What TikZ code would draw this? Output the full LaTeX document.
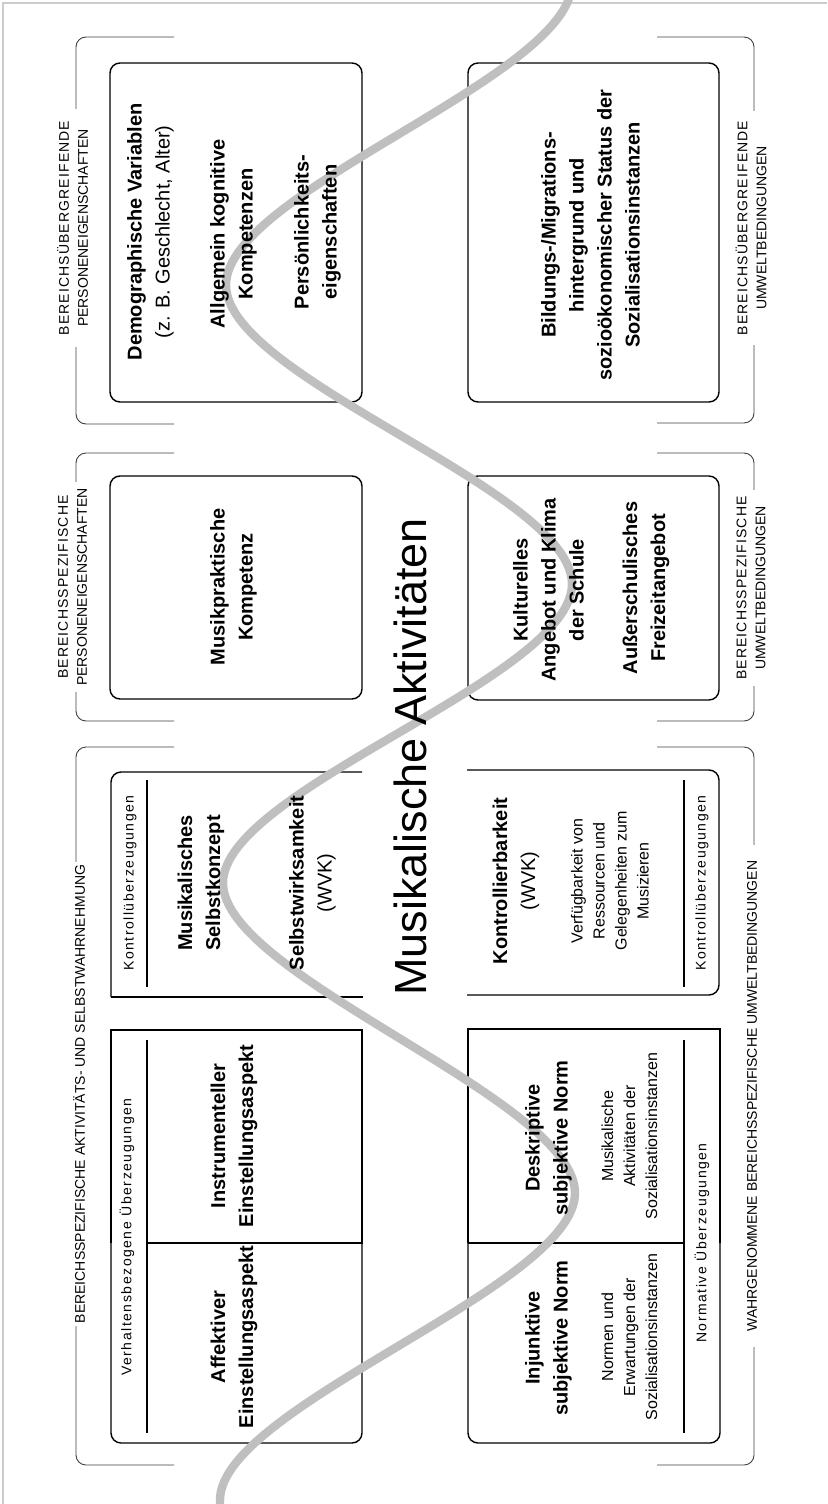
\documentclass[tikz,border=0pt]{standalone}
\usepackage{fontspec}
\setmainfont{Liberation Sans}
\newfontfamily\trackedfont[LetterSpace=11]{Liberation Sans}
\newfontfamily\headcapsfont[LetterSpace=8]{Liberation Sans}
\definecolor{wavegray}{RGB}{191,191,191}
\definecolor{framegray}{RGB}{204,204,204}

\begin{document}
\begin{tikzpicture}[x=0.5pt, y=-0.5pt]

% Define styles
\tikzstyle{box} = [draw, line width=0.7pt, rounded corners=5pt]
\tikzstyle{heavy} = [draw, line width=1.2pt]
\tikzstyle{rule} = [draw, line width=0.7pt]
\tikzstyle{bracket} = [draw=black!75, line width=0.45pt, rounded corners=5pt]
\tikzstyle{txt} = [rotate=90, align=center, inner sep=0pt]
\tikzstyle{head} = [txt, font=\fontsize{10}{14}\selectfont\bfseries]
\tikzstyle{normtext} = [txt, font=\fontsize{10}{14}\selectfont]
\tikzstyle{note} = [txt, font=\fontsize{8}{11}\selectfont]
\tikzstyle{belief} = [txt, font=\trackedfont\fontsize{7}{9}\selectfont]
\tikzstyle{grouplabel} = [txt, fill=white, inner ysep=1pt, font=\fontsize{7}{9.5}\selectfont]
\tikzstyle{maintitle} = [rotate=90, inner sep=0pt, font=\fontsize{22.5}{27}\selectfont]

\useasboundingbox (0,0) rectangle (827,1504);
\draw[framegray, line width=1pt] (3,1504) -- (3,3) -- (827,3);

% Brackets
\draw[bracket] (174,37) -- (76,37) -- (76,424) -- (174,424);
\draw[bracket] (657,37) -- (754,37) -- (754,423) -- (657,423);
\draw[bracket] (174,453) -- (76,453) -- (76,721) -- (174,721);
\draw[bracket] (657,453) -- (754,453) -- (754,721) -- (657,721);
\draw[bracket] (174,747) -- (76,747) -- (76,1465) -- (174,1465);
\draw[bracket] (657,747) -- (754,747) -- (754,1465) -- (657,1465);

\node[grouplabel, inner xsep=6pt] (perscross) at (72.5,228) {{\headcapsfont BEREICHSÜBERGREIFENDE}\\ PERSONENEIGENSCHAFTEN};
\node[grouplabel, inner xsep=3pt] (persspec) at (72.5,587) {{\headcapsfont BEREICHSSPEZIFISCHE}\\ PERSONENEIGENSCHAFTEN};
\node[grouplabel, inner xsep=5pt] (envcross) at (751,228) {{\headcapsfont BEREICHSÜBERGREIFENDE}\\ UMWELTBEDINGUNGEN};
\node[grouplabel, inner xsep=3pt] (envspec) at (751,588) {{\headcapsfont BEREICHSSPEZIFISCHE}\\ UMWELTBEDINGUNGEN};
\node[grouplabel, inner xsep=1.5pt] (activity) at (79,1094) {BEREICHSSPEZIFISCHE AKTIVITÄTS- UND SELBSTWAHRNEHMUNG};
\node[grouplabel, inner xsep=8pt] (perceived) at (752,1096) {WAHRGENOMMENE BEREICHSSPEZIFISCHE UMWELTBEDINGUNGEN};

% Boxes
\draw[box] (110,63) rectangle (362,402);
\draw[box] (468,63) rectangle (719,402);
\draw[box] (110,476) rectangle (362,699);
\draw[box] (468,476) rectangle (719,700);

\draw[box] (362,772) -- (111,772) -- (111,997);
\draw[heavy] (111,997) -- (363,997);
\draw[rule] (147,780) -- (147,987);
\draw[box] (467,770) -- (719,770) -- (719,995) -- (467,995);
\draw[rule] (684,780) -- (684,987);

\draw[box] (111,1243) -- (111,1443) -- (362,1443) -- (362,1243);
\draw[heavy] (111,1243) -- (111,1030) -- (362,1030) -- (362,1243) -- (147,1243);
\draw[rule] (147,1040) -- (147,1433);
\draw[box] (468,1243) -- (468,1443) -- (720,1443) -- (720,1243);
\draw[heavy] (468,1243) -- (468,1029) -- (720,1029) -- (720,1243);
\draw[heavy] (468,1243) -- (684,1243);
\draw[rule] (684,1040) -- (684,1433);

% Wave
\begin{scope}
\clip (0,0) rectangle (827,1504);
\draw[wavegray, line width=4.2pt] (572,-17) .. controls (572,77) and (226,191) .. (226,285)
  .. controls (226,379) and (572,490) .. (572,584)
  .. controls (572,678) and (223,789) .. (223,883)
  .. controls (223,977) and (575,1099) .. (575,1193)
  .. controls (575,1287) and (220,1406) .. (220,1500) -- (220,1520);
\end{scope}

% Row 1
\node[normtext] (demo) at (150.5,232) {{\bfseries Demographische Variablen}\\ (z. B. Geschlecht, Alter)};
\node[head] (cogn) at (233.5,234) {Allgemein kognitive\\ Kompetenzen};
\node[head] (person) at (317.5,232) {Persönlichkeits-\\ eigenschaften};
\node[head] (edu) at (590.5,235) {Bildungs-/Migrations-\\ hintergrund und\\ sozioökonomischer Status der\\ Sozialisationsinstanzen};

% Row 2
\node[head] (musprak) at (233.5,587) {Musikpraktische\\ Kompetenz};
\node[head] (culture) at (548.5,590) {Kulturelles\\ Angebot und Klima\\ der Schule};
\node[head] (leisure) at (646,588) {Außerschulisches\\ Freizeitangebot};

% Row 3
\node[belief] (controlL) at (130,883) {Kontrollüberzeugungen};
\node[head] (selfconc) at (201,883) {Musikalisches\\ Selbstkonzept};
\node[normtext] (selfeff) at (312.5,883) {{\bfseries Selbstwirksamkeit}\\ (WVK)};
\node[belief] (controlR) at (702,883) {Kontrollüberzeugungen};
\node[normtext] (controll) at (516,881) {{\bfseries Kontrollierbarkeit}\\ (WVK)};
\node[note] (resources) at (610,881) {Verfügbarkeit von\\ Ressourcen und\\ Gelegenheiten zum\\ Musizieren};

% Row 4
\node[belief] (behav) at (127,1237) {Verhaltensbezogene Überzeugungen};
\node[head] (instr) at (234,1136) {Instrumenteller\\ Einstellungsaspekt};
\node[head] (affect) at (234,1337) {Affektiver\\ Einstellungsaspekt};
\node[belief] (normative) at (702,1243) {Normative Überzeugungen};
\node[head] (descr) at (548.5,1138) {Deskriptive\\ subjektive Norm};
\node[note] (descrtxt) at (629.5,1136) {Musikalische\\ Aktivitäten der\\ Sozialisationsinstanzen};
\node[head] (injunct) at (548.5,1338) {Injunktive\\ subjektive Norm};
\node[note] (injuncttxt) at (629.5,1337) {Normen und\\ Erwartungen der\\ Sozialisationsinstanzen};

% Title
\node[maintitle, anchor=base] (titel) at (426,757) {Musikalische Aktivitäten};

\end{tikzpicture}
\end{document}
